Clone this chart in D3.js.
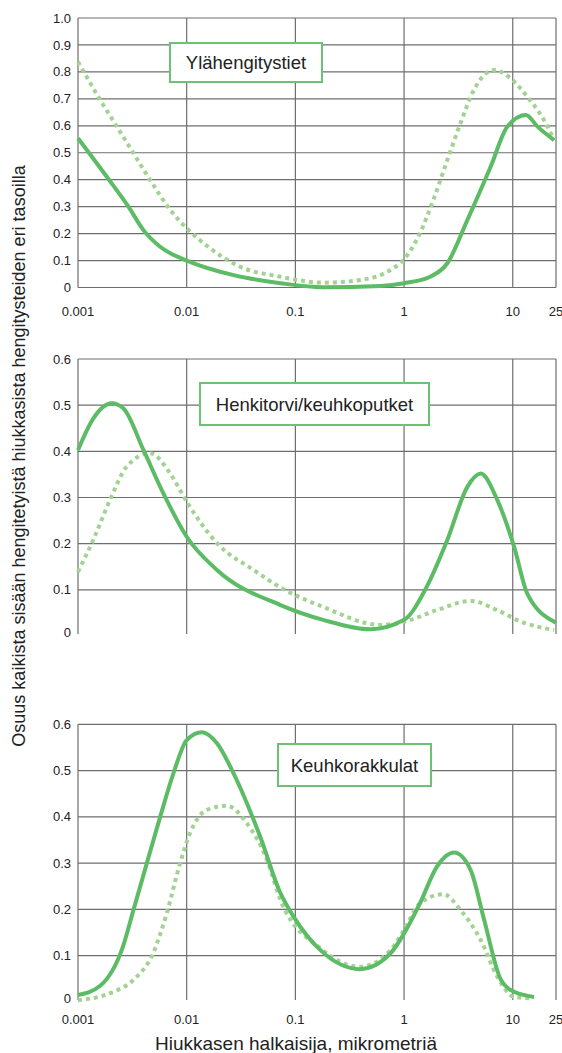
<script src="https://cdn.jsdelivr.net/npm/d3@7"></script>
<style>
  body { margin: 0; background: #fff; }
  text { font-family: "Liberation Sans", Arial, sans-serif; fill: #222; }
</style>
<svg id="chart" width="562" height="1053"></svg>
<script>
  "use strict";
  const WIDTH = 562, HEIGHT = 1053;
  const X_TICKS = [0.001, 0.01, 0.1, 1, 10, 25];
  const X_TICK_LABELS = ["0.001", "0.01", "0.1", "1", "10", "25"];

  // Ylähengitystiet
  const upperSolidX = [0.001, 0.00184, 0.00291, 0.004, 0.0057, 0.0103, 0.027, 0.073, 0.18, 0.61, 1, 1.74, 2.5, 3.82, 6.26, 8.93, 13.2, 16.9, 24];
  const upperSolidY = [0.554, 0.411, 0.30, 0.213, 0.151, 0.098, 0.046, 0.016, 0.001, 0.006, 0.016, 0.040, 0.09, 0.25, 0.448, 0.597, 0.64, 0.597, 0.547];
  const upperDotX = [0.001, 0.0016, 0.00228, 0.00324, 0.00461, 0.00705, 0.01, 0.0165, 0.031, 0.073, 0.18, 0.43, 0.75, 1, 1.4, 1.86, 2.5, 3.3, 4.39, 6.71, 9.57, 13.6, 19.4, 24];
  const upperDotY = [0.838, 0.696, 0.597, 0.498, 0.399, 0.288, 0.22, 0.145, 0.077, 0.04, 0.018, 0.030, 0.065, 0.105, 0.201, 0.325, 0.473, 0.609, 0.733, 0.807, 0.776, 0.708, 0.621, 0.547];

  // Henkitorvi/keuhkoputket
  const midSolidX = [0.001, 0.00138, 0.00205, 0.00262, 0.004, 0.0061, 0.01, 0.019, 0.073, 0.18, 0.49, 1, 1.62, 2.5, 3.82, 5.07, 7.2, 10.3, 13.6, 25];
  const midSolidY = [0.403, 0.471, 0.504, 0.493, 0.403, 0.309, 0.215, 0.143, 0.067, 0.035, 0.0145, 0.035, 0.107, 0.208, 0.323, 0.352, 0.295, 0.193, 0.092, 0.029];
  const midDotX = [0.001, 0.00138, 0.00197, 0.00281, 0.00461, 0.00705, 0.01, 0.019, 0.0413, 0.073, 0.18, 0.61, 1, 2.0, 4.1, 7.2, 11.9, 24];
  const midDotY = [0.139, 0.208, 0.295, 0.367, 0.396, 0.352, 0.291, 0.201, 0.143, 0.105, 0.063, 0.024, 0.031, 0.056, 0.076, 0.056, 0.031, 0.013];

  // Keuhkorakkulat
  const lowSolidX = [0.001, 0.0016, 0.00262, 0.00324, 0.0043, 0.0057, 0.00755, 0.01, 0.0138, 0.019, 0.027, 0.0475, 0.073, 0.0966, 0.17, 0.394, 0.75, 1, 1.4, 2.0, 2.89, 4.1, 5.46, 7.78, 10.3, 15.7];
  const lowSolidY = [0.015, 0.035, 0.123, 0.199, 0.30, 0.40, 0.494, 0.566, 0.583, 0.559, 0.494, 0.357, 0.235, 0.184, 0.112, 0.071, 0.105, 0.148, 0.213, 0.292, 0.323, 0.285, 0.177, 0.048, 0.022, 0.011];
  const lowDotX = [0.001, 0.00197, 0.00324, 0.0049, 0.00656, 0.0087, 0.0107, 0.0153, 0.0234, 0.0359, 0.0548, 0.073, 0.17, 0.394, 0.75, 1, 1.4, 2.31, 3.3, 5.07, 7.2, 10.3, 14.7];
  const lowDotY = [0.004, 0.019, 0.048, 0.105, 0.192, 0.30, 0.364, 0.415, 0.424, 0.386, 0.307, 0.22, 0.116, 0.076, 0.112, 0.156, 0.213, 0.233, 0.199, 0.134, 0.055, 0.011, 0.008];

  const panels = [
    { title: "Ylähengitystiet", max: 1.0, top: 18, bottom: 287.5, fmt: d3.format(".1f"), baseLine: true, xLabels: 316,
      box: [170, 43, 152, 39], solid: [upperSolidX, upperSolidY], dot: [upperDotX, upperDotY] },
    { title: "Henkitorvi/keuhkoputket", max: 0.6, top: 359, bottom: 636, fmt: null, baseLine: false, xLabels: null,
      box: [200, 383, 229, 42], solid: [midSolidX, midSolidY], dot: [midDotX, midDotY] },
    { title: "Keuhkorakkulat", max: 0.6, top: 724.3, bottom: 1002, fmt: null, baseLine: false, xLabels: 1024,
      box: [278, 744, 153, 42], solid: [lowSolidX, lowSolidY], dot: [lowDotX, lowDotY] }
  ];

  const svg = d3.select("#chart");
  const x = d3.scaleLog().domain([0.001, 25]).range([78, 556]);

  panels.forEach((p) => {
    const y = d3.scaleLinear().domain([0, p.max]).range([p.bottom, p.top]);
    const yTicks = d3.range(0, Math.round(p.max * 10) + 1).map((i) => i / 10);
    const g = svg.append("g");

    // horizontal grid
    g.selectAll(".hgrid")
      .data(yTicks.filter((t) => t > 0 || p.baseLine))
      .enter().append("line")
      .attr("x1", x(0.001)).attr("x2", x(25))
      .attr("y1", (d) => y(d)).attr("y2", (d) => y(d))
      .attr("stroke", "#6e6e6e").attr("stroke-width", 1.2);

    // vertical grid
    g.selectAll(".vgrid")
      .data(X_TICKS)
      .enter().append("line")
      .attr("x1", (d) => x(d)).attr("x2", (d) => x(d))
      .attr("y1", p.top).attr("y2", p.baseLine ? p.bottom : p.bottom - 2)
      .attr("stroke", "#6e6e6e").attr("stroke-width", 1.2);

    // y tick labels
    g.selectAll(".ylab")
      .data(yTicks)
      .enter().append("text")
      .attr("x", 71)
      .attr("y", (d) => (d === 0 && !p.baseLine ? y(d) - 4 : y(d)))
      .attr("dy", "0.35em")
      .attr("text-anchor", "end")
      .attr("font-size", 13)
      .text((d) => (d === 0 ? "0" : (p.fmt ? p.fmt(d) : String(d))));

    // x tick labels
    if (p.xLabels) {
      g.selectAll(".xlab")
        .data(X_TICKS)
        .enter().append("text")
        .attr("x", (d) => x(d))
        .attr("y", p.xLabels)
        .attr("text-anchor", "middle")
        .attr("font-size", 13)
        .text((d, i) => X_TICK_LABELS[i]);
    }

    const line = d3.line()
      .x((d) => x(d[0]))
      .y((d) => y(d[1]))
      .curve(d3.curveMonotoneX);

    const dotData = p.dot[0].map((v, i) => [v, p.dot[1][i]]);
    const solidData = p.solid[0].map((v, i) => [v, p.solid[1][i]]);

    g.append("path")
      .attr("d", line(dotData))
      .attr("fill", "none")
      .attr("stroke", "#a3d393")
      .attr("stroke-width", 4)
      .attr("stroke-dasharray", "4,4");

    g.append("path")
      .attr("d", line(solidData))
      .attr("fill", "none")
      .attr("stroke", "#5cbb65")
      .attr("stroke-width", 4)
      .attr("stroke-linejoin", "round");

    // title box
    g.append("rect")
      .attr("x", p.box[0]).attr("y", p.box[1])
      .attr("width", p.box[2]).attr("height", p.box[3])
      .attr("fill", "#fff")
      .attr("stroke", "#6cc274")
      .attr("stroke-width", 2);

    g.append("text")
      .attr("x", p.box[0] + p.box[2] / 2)
      .attr("y", p.box[1] + p.box[3] / 2)
      .attr("dy", "0.36em")
      .attr("text-anchor", "middle")
      .attr("font-size", 18.5)
      .text(p.title);
  });

  // axis titles
  svg.append("text")
    .attr("transform", "translate(25,456) rotate(-90)")
    .attr("text-anchor", "middle")
    .attr("font-size", 18)
    .text("Osuus kaikista sisään hengitetyistä hiukkasista hengitysteiden eri tasoilla");

  svg.append("text")
    .attr("x", 296)
    .attr("y", 1050)
    .attr("text-anchor", "middle")
    .attr("font-size", 19)
    .text("Hiukkasen halkaisija, mikrometriä");
</script>
